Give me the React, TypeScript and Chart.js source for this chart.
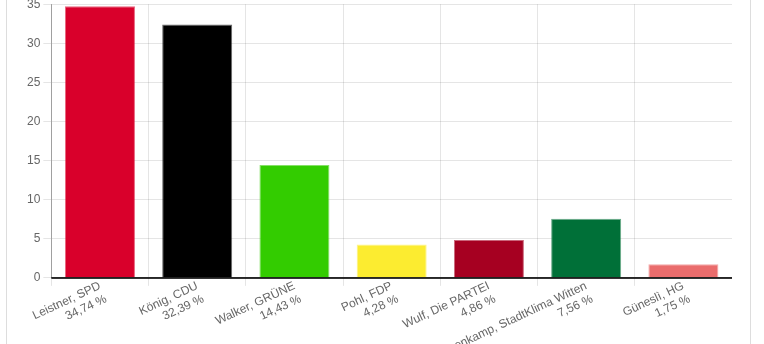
import React, { useEffect, useRef } from "react";
import { Chart, registerables } from "chart.js";

Chart.register(...registerables);

const candidates: string[] = [
  "Leistner, SPD",
  "König, CDU",
  "Walker, GRÜNE",
  "Pohl, FDP",
  "Wulf, Die PARTEI",
  "Sonnenkamp, StadtKlima Witten",
  "Güneslì, HG",
];
const shares: number[] = [34.74, 32.39, 14.43, 4.28, 4.86, 7.56, 1.75];
const shareLabels: string[] = ["34,74 %", "32,39 %", "14,43 %", "4,28 %", "4,86 %", "7,56 %", "1,75 %"];
const barColors: string[] = [
  "rgb(217,0,43)",
  "rgb(0,0,0)",
  "rgb(51,204,0)",
  "rgb(252,236,48)",
  "rgb(166,0,33)",
  "rgb(0,112,56)",
  "rgb(234,108,108)",
];
const borderColors: string[] = [
  "rgba(217,0,43,0.6)",
  "rgba(0,0,0,0.6)",
  "rgba(51,204,0,0.6)",
  "rgba(252,236,48,0.6)",
  "rgba(166,0,33,0.6)",
  "rgba(0,112,56,0.6)",
  "rgba(234,108,108,0.6)",
];
const yMax = 35;
const yStep = 5;

export default function App() {
  const ref = useRef<HTMLCanvasElement | null>(null);
  useEffect(() => {
    document.body.style.margin = "0";
    const canvas = ref.current;
    if (!canvas) return;
    const font = { family: "'Liberation Sans', Arial, sans-serif", size: 12 };
    const chart = new Chart(canvas, {
      type: "bar",
      data: {
        labels: candidates.map((c, i) => [c, shareLabels[i]]),
        datasets: [
          {
            data: shares,
            backgroundColor: barColors,
            borderColor: borderColors,
            borderWidth: 1,
          },
        ],
      },
      options: {
        animation: false,
        responsive: false,
        plugins: { legend: { display: false }, tooltip: { enabled: false } },
        layout: { padding: 0 },
        scales: {
          x: {
            ticks: { font, color: "#666", minRotation: 25, maxRotation: 25, autoSkip: false, padding: -7 },
            grid: { color: "rgba(0,0,0,0.1)", tickColor: "rgba(0,0,0,0.1)", offset: true },
            border: { color: "rgba(0,0,0,0.25)" },
          },
          y: {
            min: 0,
            max: yMax,
            ticks: { stepSize: yStep, font, color: "#666" },
            grid: {
              color: (ctx: any) => (ctx.tick && ctx.tick.value === 0 ? "rgba(0,0,0,0)" : "rgba(0,0,0,0.1)"),
              tickColor: "rgba(0,0,0,0.1)",
            },
            border: { color: "rgba(0,0,0,0.3)" },
          },
        },
      },
      plugins: [
        {
          id: "zeroLine",
          afterDatasetsDraw(c: any) {
            const y = c.scales.y.getPixelForValue(0);
            const ctx = c.ctx;
            ctx.save();
            ctx.strokeStyle = "rgba(0,0,0,0.8)";
            ctx.lineWidth = 2;
            ctx.beginPath();
            ctx.moveTo(c.chartArea.left, y);
            ctx.lineTo(c.chartArea.right, y);
            ctx.stroke();
            ctx.restore();
          },
        },
      ],
    });
    return () => chart.destroy();
  }, []);

  return (
    <div style={{ position: "fixed", left: 0, top: 0, width: 764, height: 344, overflow: "hidden", background: "#fff" }}>
      <div
        style={{
          position: "absolute",
          left: 6,
          top: -20,
          width: 745,
          height: 400,
          border: "1px solid #ddd",
          boxSizing: "border-box",
        }}
      />
      <canvas
        ref={ref}
        width={708}
        height={377}
        style={{ position: "absolute", left: 24, top: -6, width: 708, height: 377 }}
      />
    </div>
  );
}
